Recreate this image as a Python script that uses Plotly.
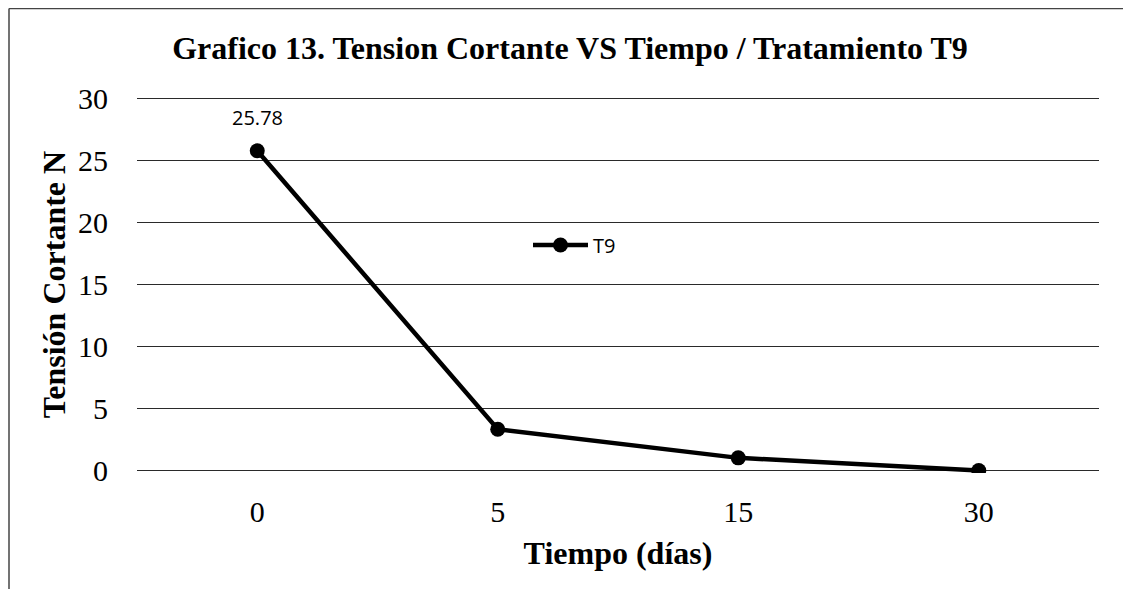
import plotly.graph_objects as go

categories = ["0", "5", "15", "30"]
values = [25.78, 3.33, 1.02, 0]
value_labels = ["25.78", "3.33", "1.02", "0"]
series_name = "T9"
y_ticks = [0, 5, 10, 15, 20, 25, 30]

serif = "Liberation Serif, Times New Roman, serif"
sans = "Open Sans, Liberation Sans, sans-serif"

W, H = 1123, 581
L, R, T, B = 129, 32, 88, 116
plot_w = W - L - R
plot_h = H - T - B

fig = go.Figure()
fig.add_trace(go.Scatter(
    x=categories, y=values, name=series_name, mode="lines+markers",
    line=dict(color="black", width=4.5),
    marker=dict(color="black", size=15),
))

for c, v, t in zip(categories, values, value_labels):
    fig.add_annotation(x=c, y=v, xref="x", yref="y", text=t, showarrow=False,
                       yshift=33, font=dict(family=sans, size=20, color="black"))

fig.update_layout(
    width=W, height=H,
    margin=dict(l=L, r=R, t=T, b=B),
    paper_bgcolor="white", plot_bgcolor="white",
    title=dict(text="<b>Grafico 13. Tension Cortante VS Tiempo / Tratamiento T9</b>",
               x=562 / W, xanchor="center", xref="container",
               y=1 - 40 / H, yanchor="middle", yref="container",
               font=dict(family=serif, size=32, color="black")),
    showlegend=True,
    legend=dict(x=(520 - L) / plot_w, y=(H - B - 237) / plot_h,
                xanchor="left", yanchor="middle", itemwidth=55,
                bgcolor="rgba(0,0,0,0)", font=dict(family=sans, size=20, color="black")),
    xaxis=dict(type="category", range=[-0.5, 3.5], showgrid=False, showline=False,
               zeroline=False, ticks="", ticklabelstandoff=18,
               tickfont=dict(family=serif, size=30, color="black"),
               title=dict(text="<b>Tiempo (días)</b>", standoff=14,
                          font=dict(family=serif, size=32, color="black"))),
    yaxis=dict(range=[-0.2, 30.2], tickvals=y_ticks, showgrid=True, gridcolor="#2a2a2a",
               gridwidth=1.3, zeroline=False, showline=False, ticks="",
               ticklabelstandoff=28,
               tickfont=dict(family=serif, size=30, color="black"),
               title=dict(text="<b>Tensión Cortante N</b>", standoff=2,
                          font=dict(family=serif, size=32, color="black"))),
)

# scanned page frame (left and top edges)
fig.add_shape(type="line", xref="paper", yref="paper",
              x0=(1 - L) / plot_w, x1=(1 - L) / plot_w,
              y0=(H - B - 0.5) / plot_h, y1=-(B + 5) / plot_h,
              line=dict(color="#444444", width=1.5))
fig.add_shape(type="line", xref="paper", yref="paper",
              x0=(1 - L) / plot_w, x1=(W + 5 - L) / plot_w,
              y0=(H - B - 0.5) / plot_h, y1=(H - B - 0.5) / plot_h,
              line=dict(color="#444444", width=1.5))

fig.write_html("out.html")
